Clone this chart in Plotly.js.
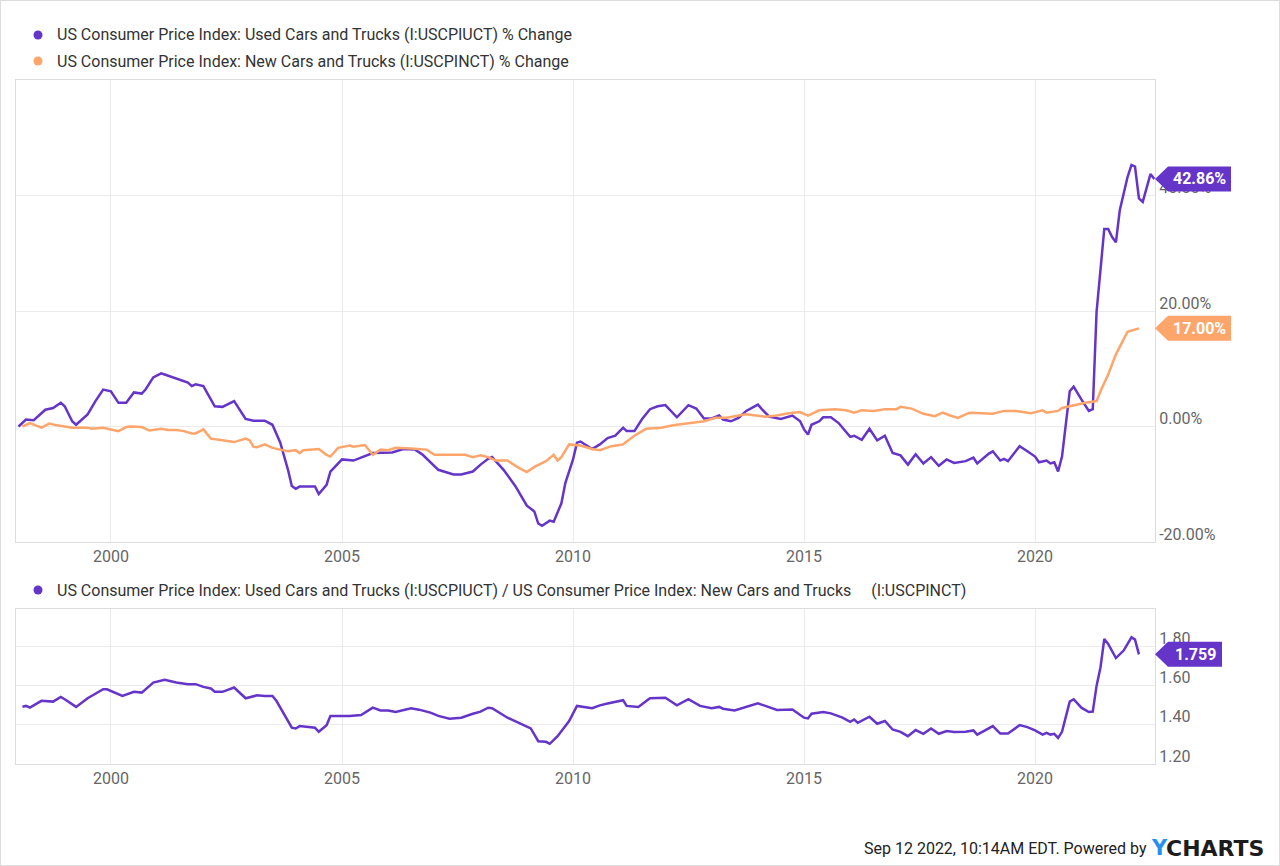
<!DOCTYPE html>
<html>
<head>
<meta charset="utf-8">
<script src="https://cdn.plot.ly/plotly-3.0.1.min.js"></script>
<style>
  html, body { margin: 0; padding: 0; background: #fff; }
  #chart { width: 1280px; height: 866px; }
  #frame { position: absolute; left: 0; top: 0; width: 1280px; height: 866px; box-sizing: border-box; border: 1px solid #dcdcdc; pointer-events: none; }
</style>
</head>
<body>
<div id="chart"></div>
<div id="frame"></div>
<script>
// Used cars & trucks CPI, cumulative % change
const usedDates = ['1998-01','1998-03','1998-05','1998-08','1998-10','1998-12','1999-01','1999-03','1999-04','1999-07','1999-09','1999-11',
  '2000-01','2000-03','2000-05','2000-07','2000-09','2000-10','2000-12','2001-02','2001-03','2001-06','2001-09','2001-10','2001-11',
  '2002-01','2002-04','2002-06','2002-09','2002-12','2003-02','2003-05','2003-07','2003-09','2003-11','2003-12','2004-01','2004-02',
  '2004-06','2004-07','2004-09','2004-10','2005-01','2005-04','2005-07','2005-09','2006-02','2006-05','2006-08','2006-10','2007-02',
  '2007-06','2007-08','2007-11','2008-01','2008-03','2008-04','2008-07','2008-10','2008-12','2009-01','2009-03','2009-04','2009-05',
  '2009-07','2009-08','2009-10','2009-11','2010-01','2010-02','2010-03','2010-06','2010-08','2010-10','2010-12','2011-02','2011-03',
  '2011-05','2011-07','2011-09','2011-11','2012-01','2012-02','2012-04','2012-07','2012-09','2012-11','2013-01','2013-03','2013-04',
  '2013-06','2013-08','2013-10','2014-01','2014-02','2014-04','2014-07','2014-10','2014-12','2015-01','2015-02','2015-03','2015-05',
  '2015-06','2015-08','2015-10','2016-01','2016-02','2016-04','2016-06','2016-08','2016-10','2016-12','2017-02','2017-04','2017-06',
  '2017-08','2017-10','2017-12','2018-02','2018-04','2018-07','2018-09','2018-10','2019-01','2019-02','2019-04','2019-05','2019-06',
  '2019-09','2019-11','2020-01','2020-02','2020-04','2020-05','2020-06','2020-07','2020-08','2020-10','2020-11','2021-01','2021-03',
  '2021-04','2021-05','2021-07','2021-08','2021-09','2021-10','2021-11','2022-01','2022-02','2022-03','2022-04','2022-05','2022-07','2022-08'];
const usedPct = [0,1.2,1.1,2.9,3.2,4.1,3.5,0.9,0.3,2.1,4.4,6.4,
  6.1,4.1,4.1,5.9,5.7,6.4,8.5,9.2,9.0,8.3,7.6,7.0,7.3,
  7.0,3.5,3.4,4.4,1.3,1.0,1.0,0.3,-2.8,-7.5,-10.3,-10.8,-10.4,
  -10.4,-11.7,-10.1,-7.8,-5.7,-5.9,-5.2,-4.6,-4.5,-3.9,-4.0,-4.9,-7.5,
  -8.3,-8.3,-7.8,-6.6,-5.6,-5.3,-7.5,-10.3,-12.7,-13.7,-14.7,-16.8,-17.2,
  -16.3,-16.5,-13.3,-9.8,-5.7,-2.8,-2.6,-3.9,-3.1,-2.0,-1.6,-0.2,-0.8,
  -0.8,1.3,3.0,3.5,3.7,3.0,1.6,3.7,3.1,1.4,1.4,1.9,1.2,
  0.9,1.5,2.7,3.8,3.0,1.7,1.3,1.9,0.9,-0.5,-1.4,0.3,0.9,
  1.6,1.6,0.6,-1.8,-1.6,-2.3,-0.4,-2.4,-1.6,-4.6,-5.0,-6.6,-4.8,
  -6.4,-5.3,-6.8,-5.7,-6.3,-6.0,-5.4,-6.4,-4.7,-4.3,-5.9,-5.6,-6.0,
  -3.4,-4.3,-5.2,-6.2,-5.9,-6.4,-6.2,-7.8,-5.2,6.1,6.9,4.7,2.7,
  3.0,19.8,34.2,34.2,32.8,31.9,37.5,43.2,45.3,45.0,39.5,38.9,43.7,42.86];

// New cars & trucks CPI, cumulative % change
const newDates = ['1998-02','1998-04','1998-07','1998-09','1998-11','1999-03','1999-07','1999-08','1999-11','2000-03','2000-05','2000-06',
  '2000-09','2000-11','2001-02','2001-04','2001-06','2001-08','2001-10','2001-11','2002-01','2002-03','2002-06','2002-09','2002-12',
  '2003-01','2003-02','2003-03','2003-05','2003-07','2003-09','2003-11','2004-01','2004-02','2004-03','2004-07','2004-09','2004-10',
  '2004-12','2005-03','2005-04','2005-07','2005-09','2005-11','2006-01','2006-03','2006-07','2006-11','2007-01','2007-03','2007-06',
  '2007-09','2007-11','2008-01','2008-03','2008-05','2008-08','2008-11','2009-01','2009-03','2009-06','2009-08','2009-09','2009-10',
  '2009-12','2010-03','2010-06','2010-08','2010-11','2011-02','2011-03','2011-05','2011-08','2011-12','2012-03','2012-07','2012-11',
  '2013-02','2013-05','2013-08','2013-10','2014-03','2014-06','2014-09','2014-12','2015-02','2015-05','2015-09','2015-12','2016-02',
  '2016-04','2016-07','2016-10','2017-01','2017-02','2017-05','2017-08','2017-11','2018-01','2018-03','2018-05','2018-08','2018-11',
  '2019-02','2019-05','2019-08','2019-12','2020-03','2020-04','2020-07','2020-08','2020-12','2021-02','2021-05','2021-06','2021-08',
  '2021-10','2022-01','2022-02','2022-04'];
const newPct = [0,0.6,-0.2,0.5,0.2,-0.2,-0.2,-0.4,-0.2,-0.8,-0.1,0,
  -0.1,-0.7,-0.4,-0.6,-0.6,-0.8,-1.2,-1.2,-0.5,-2.1,-2.4,-2.7,-2.1,
  -2.4,-3.5,-3.6,-3.1,-3.7,-4.0,-4.3,-4.1,-4.6,-4.1,-3.9,-4.9,-5.2,
  -3.7,-3.3,-3.5,-3.2,-4.9,-4.0,-4.1,-3.7,-3.8,-4.0,-4.9,-4.9,-5.0,
  -4.9,-5.3,-5.0,-5.3,-5.9,-5.9,-7.2,-7.9,-7.0,-6.0,-4.9,-5.9,-5.3,
  -3.1,-3.3,-3.9,-4.1,-3.4,-3.1,-2.6,-1.6,-0.4,-0.2,0.2,0.5,0.9,
  1.5,1.5,1.9,2.1,1.7,1.9,2.3,2.5,1.9,2.8,3.0,2.8,2.4,
  2.8,2.7,3.0,3.0,3.4,3.1,2.2,1.8,2.4,1.9,1.5,2.4,2.3,
  2.2,2.7,2.7,2.3,2.8,2.4,2.7,3.2,3.8,4.1,4.4,6.1,9.0,
  12.5,16.4,16.6,17.0];

// Used / New CPI ratio
const ratioDates = ['1998-02','1998-03','1998-04','1998-07','1998-10','1998-12','1999-01','1999-04','1999-07','1999-11','1999-12','2000-04',
  '2000-07','2000-09','2000-12','2001-03','2001-06','2001-09','2001-11','2002-01','2002-03','2002-04','2002-06','2002-09','2002-12',
  '2003-03','2003-05','2003-07','2003-08','2003-10','2003-12','2004-01','2004-02','2004-06','2004-07','2004-09','2004-10','2005-03',
  '2005-06','2005-09','2005-11','2006-01','2006-03','2006-07','2006-09','2006-12','2007-02','2007-05','2007-08','2007-11','2008-01',
  '2008-03','2008-04','2008-08','2008-10','2009-01','2009-02','2009-04','2009-06','2009-07','2009-09','2009-12','2010-02','2010-06',
  '2010-08','2010-10','2011-02','2011-03','2011-06','2011-09','2012-01','2012-04','2012-07','2012-10','2013-01','2013-03','2013-04',
  '2013-07','2013-10','2014-01','2014-03','2014-06','2014-10','2014-12','2015-01','2015-02','2015-03','2015-06','2015-08','2015-11',
  '2016-01','2016-02','2016-03','2016-06','2016-08','2016-10','2016-12','2017-02','2017-04','2017-06','2017-08','2017-10','2017-12',
  '2018-02','2018-04','2018-07','2018-09','2018-10','2019-01','2019-02','2019-04','2019-06','2019-09','2019-11','2020-01','2020-03',
  '2020-04','2020-05','2020-06','2020-07','2020-08','2020-10','2020-11','2021-01','2021-03','2021-04','2021-05','2021-06','2021-07',
  '2021-08','2021-10','2021-12','2022-02','2022-03','2022-04'];
const ratioVals = [1.492,1.496,1.487,1.522,1.518,1.542,1.530,1.491,1.535,1.581,1.581,1.547,
  1.568,1.564,1.615,1.629,1.615,1.607,1.607,1.593,1.585,1.568,1.568,1.590,1.535,
  1.550,1.547,1.547,1.522,1.453,1.385,1.381,1.393,1.385,1.364,1.398,1.445,1.445,
  1.450,1.487,1.473,1.473,1.465,1.484,1.477,1.462,1.445,1.431,1.436,1.456,1.467,
  1.487,1.484,1.436,1.419,1.393,1.381,1.316,1.313,1.303,1.342,1.419,1.496,1.484,
  1.499,1.508,1.525,1.496,1.491,1.535,1.538,1.499,1.530,1.496,1.484,1.491,1.482,
  1.473,1.492,1.509,1.496,1.475,1.478,1.453,1.436,1.432,1.456,1.465,1.458,1.436,
  1.415,1.427,1.410,1.441,1.405,1.419,1.376,1.364,1.342,1.373,1.354,1.381,1.354,
  1.368,1.363,1.364,1.371,1.350,1.381,1.393,1.355,1.355,1.398,1.388,1.371,1.350,
  1.359,1.350,1.354,1.333,1.364,1.518,1.530,1.487,1.465,1.467,1.598,1.692,1.837,
  1.812,1.740,1.778,1.846,1.834,1.759];

const pctTicks = [-20, 0, 20, 40];
const pctTickText = ['-20.00%', '0.00%', '20.00%', '40.00%'];
const ratioTicks = [1.2, 1.4, 1.6, 1.8];
const ratioTickText = ['1.20', '1.40', '1.60', '1.80'];

const PURPLE = '#6534c9';
const ORANGE = '#fea56b';
const GRID = '#ebebeb';
const FONT = 'Roboto, Arial, sans-serif';

// pixel helpers: plot area is 16..1155 horizontally, 80..764 vertically
const L = 16, R = 125, T = 80, B = 102, W = 1280, H = 866;
const PW = W - L - R, PH = H - T - B;
const px = x => (x - L) / PW;
const py = y => (H - B - y) / PH;

const axisBase = {
  showgrid: true, gridcolor: GRID, gridwidth: 1,
  showline: true, linecolor: '#dcdcdc', linewidth: 1, mirror: true,
  zeroline: false, ticks: '', fixedrange: true,
  tickfont: { family: FONT, size: 16, color: '#666' }
};
const xBase = {
  ...axisBase, type: 'date', range: ['1997-12-12', '2022-08-06'],
  tick0: '2000-01-01', dtick: 'M60', tickformat: '%Y'
};

const traces = [
  { x: usedDates, y: usedPct, xaxis: 'x', yaxis: 'y', mode: 'lines',
    line: { color: PURPLE, width: 2.5 }, hoverinfo: 'skip' },
  { x: newDates, y: newPct, xaxis: 'x', yaxis: 'y', mode: 'lines',
    line: { color: ORANGE, width: 2.5 }, hoverinfo: 'skip' },
  { x: ratioDates, y: ratioVals, xaxis: 'x2', yaxis: 'y2', mode: 'lines',
    line: { color: PURPLE, width: 2.5 }, hoverinfo: 'skip' }
];

const lastUsed = usedPct[usedPct.length - 1];
const lastNew = newPct[newPct.length - 1];
const lastRatio = ratioVals[ratioVals.length - 1];

// value tag: arrow-shaped box hanging off the right edge of the plot
function tag(yref, yval, w, color) {
  return {
    type: 'path', xref: 'paper', yref: yref, xsizemode: 'pixel', ysizemode: 'pixel',
    xanchor: 1, yanchor: yval, layer: 'above', fillcolor: color, line: { width: 0 },
    path: `M 0 0 L 13 12.5 L ${w} 12.5 L ${w} -12.5 L 13 -12.5 Z`
  };
}
function tagText(yref, yval, w, text) {
  return {
    xref: 'paper', yref: yref, x: 1, y: yval, xanchor: 'center', yanchor: 'middle',
    xshift: (13 + w) / 2, showarrow: false, text: '<b>' + text + '</b>',
    font: { family: FONT, size: 16, color: '#fff' }
  };
}
function dot(yPix, color) {
  return {
    type: 'circle', xref: 'paper', yref: 'paper', xsizemode: 'pixel', ysizemode: 'pixel',
    xanchor: px(38), yanchor: py(yPix), x0: -4.5, x1: 4.5, y0: -4.5, y1: 4.5,
    fillcolor: color, line: { width: 0 }
  };
}
function legendText(yPix, text) {
  return {
    xref: 'paper', yref: 'paper', x: px(55), y: py(yPix), xanchor: 'left', yanchor: 'middle',
    showarrow: false, text: text, font: { family: FONT, size: 16, color: '#333' }
  };
}

const layout = {
  width: W, height: H,
  margin: { l: L, r: R, t: T, b: B },
  paper_bgcolor: '#fff', plot_bgcolor: '#fff',
  showlegend: false,
  xaxis: { ...xBase, anchor: 'y' },
  yaxis: { ...axisBase, domain: [py(542), 1], anchor: 'x', side: 'right', range: [-20, 60],
    tickvals: pctTicks, ticktext: pctTickText, ticklabelshift: -8 },
  xaxis2: { ...xBase, anchor: 'y2' },
  yaxis2: { ...axisBase, domain: [0, py(609)], anchor: 'x2', side: 'right', range: [1.2, 1.99],
    tickvals: ratioTicks, ticktext: ratioTickText, ticklabelshift: -8 },
  shapes: [
    tag('y', lastUsed, 76, PURPLE),
    tag('y', lastNew, 76, ORANGE),
    tag('y2', lastRatio, 67, PURPLE),
    dot(35, PURPLE), dot(61, ORANGE), dot(590, PURPLE)
  ],
  annotations: [
    tagText('y', lastUsed, 76, lastUsed.toFixed(2) + '%'),
    tagText('y', lastNew, 76, lastNew.toFixed(2) + '%'),
    tagText('y2', lastRatio, 67, lastRatio.toFixed(3)),
    legendText(35, 'US Consumer Price Index: Used Cars and Trucks (I:USCPIUCT) % Change'),
    legendText(61, 'US Consumer Price Index: New Cars and Trucks (I:USCPINCT) % Change'),
    legendText(590, 'US Consumer Price Index: Used Cars and Trucks (I:USCPIUCT) / US Consumer Price Index: New Cars and Trucks\u00a0\u00a0\u00a0\u00a0\u00a0(I:USCPINCT)'),
    { xref: 'paper', yref: 'paper', x: px(1149), y: py(848), xanchor: 'right', yanchor: 'middle',
      showarrow: false, text: 'Sep 12 2022, 10:14AM EDT. Powered by', font: { family: FONT, size: 16, color: '#222' } },
    { xref: 'paper', yref: 'paper', x: px(1149), y: py(848), xanchor: 'left', yanchor: 'middle',
      showarrow: false, text: '<b>Y</b>', font: { family: 'DejaVu Sans', size: 21, color: '#2291ee' } },
    { xref: 'paper', yref: 'paper', x: px(1164), y: py(848), xanchor: 'left', yanchor: 'middle',
      showarrow: false, text: '<b>CHARTS</b>', font: { family: 'DejaVu Sans', size: 22, color: '#1c1c1c' } }
  ]
};

Plotly.newPlot('chart', traces, layout, { displayModeBar: false, staticPlot: true });
</script>
</body>
</html>
